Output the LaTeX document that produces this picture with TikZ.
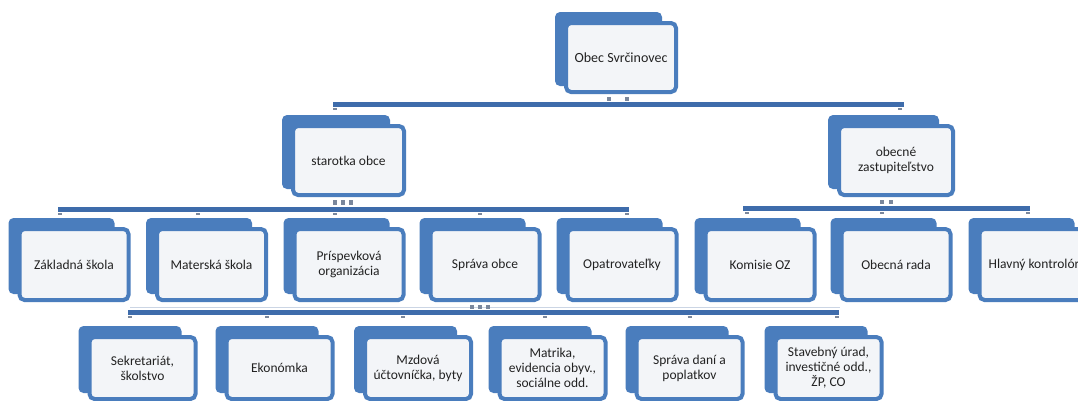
\documentclass[tikz,border=0pt]{standalone}
\usepackage{fontspec}
\setmainfont{Carlito}
\usetikzlibrary{backgrounds}
\definecolor{boxblue}{HTML}{4A7DBD}
\definecolor{barblue}{HTML}{3E6CAB}
\definecolor{boxfill}{HTML}{F3F5F8}
\definecolor{txtcol}{HTML}{222222}
\definecolor{stubgray}{HTML}{7A879C}
\definecolor{faintline}{HTML}{CBD5E4}
\newcommand\stubat[3]{\draw[stub] ([xshift=#2pt]#1.north |- #3) ++(-2pt,-4.5pt) -- ++(4pt,0pt);}
\newcommand\connat[3]{\draw[conn] ([xshift=#2pt]#1.south) -- ([xshift=#2pt]#1.south |- #3);}
\begin{document}
\begin{tikzpicture}[x=1pt,y=-1pt,
  fbox/.style={draw=boxblue,line width=4pt,fill=boxfill,rounded corners=5pt,
     inner sep=1pt,align=center,text=txtcol,font=\fontsize{13.5}{15}\selectfont},
  lone/.style={fbox,minimum width=110pt,minimum height=69pt,font=\fontsize{14}{15}\selectfont},
  ltwo/.style={fbox,minimum width=111pt,minimum height=69pt},
  lthree/.style={fbox,minimum width=109pt,minimum height=71pt},
  lfour/.style={fbox,minimum width=106pt,minimum height=62pt},
  backbox/.style={fill=boxblue,rounded corners=5pt},
  bus/.style={draw=barblue,line width=5pt},
  conn/.style={draw=stubgray,line width=4pt,shorten <=3pt,shorten >=4pt},
  stub/.style={draw=stubgray,line width=2pt},
]
\useasboundingbox (0,0) rectangle (1078,400);

% level 1
\node[lone] (top) at (621,57.5) {Obec Svrčinovec};
% level 2
\node[ltwo] (st) at (348.5,160.5) {starotka obce};
\node[ltwo,minimum width=114pt] (oz) at (896,160.5) {obecné\\zastupiteľstvo};
% level 3
\node[lthree] (za) at (74,264.5) {Základná škola};
\node[lthree] (ma) at (211.5,264.5) {Materská škola};
\node[lthree] (pr) at (349,264.5) {Príspevková\\organizácia};
\node[lthree] (sp) at (485,264.5) {Správa obce};
\node[lthree] (op) at (622,264.5) {Opatrovateľky};
\node[lthree] (ko) at (760,264.5) {Komisie OZ};
\node[lthree] (ob) at (896,264.5) {Obecná rada};
\node[lthree] (hk) at (1034,264.5) {Hlavný kontrolór};
% level 4
\node[lfour] (se) at (142.5,368) {Sekretariát,\\školstvo};
\node[lfour] (ek) at (279.5,368) {Ekonómka};
\node[lfour] (mz) at (418,368) {Mzdová\\účtovníčka, byty};
\node[lfour] (mt) at (552.5,368) {Matrika,\\evidencia obyv.,\\sociálne odd.};
\node[lfour] (sd) at (689.5,368) {Správa daní a\\poplatkov};
\node[lfour] (sb) at (828.5,368) {Stavebný úrad,\\investičné odd.,\\ŽP, CO};

% back boxes
\begin{scope}[on background layer]
  \fill[white] (0,0) rectangle (1078,400);
  \foreach \n in {top,st,oz,za,ma,pr,sp,op,ko,ob,hk,se,ek,mz,mt,sd,sb}
    \path[backbox] ([shift={(-9pt,9pt)}]\n.north west) rectangle ([shift={(-16pt,8pt)}]\n.south east);
\end{scope}

% bus heights
\coordinate (y1) at (0,104.5);
\coordinate (y2) at (0,209);
\coordinate (y3) at (0,208);
\coordinate (y4) at (0,312.5);

% buses
\draw[bus] ([xshift=-15.5pt]st.north |- y1) -- ([xshift=8pt]oz.north |- y1);
\draw[bus] ([xshift=-16pt]za.north |- y2) -- ([xshift=7pt]op.north |- y2);
\draw[bus] ([xshift=-17pt]ko.north |- y3) -- ([xshift=-4pt]hk.north |- y3);
\draw[draw=faintline,line width=1pt] ([xshift=-12.5pt]se.north |- y4) ++(0pt,5pt) -- ++(710pt,0pt);
\draw[bus] ([xshift=-14.5pt]se.north |- y4) -- ([xshift=10pt]sb.north |- y4);

% parent connectors
\foreach \d in {-12,6} {\connat{top}{\d}{y1}}
\foreach \d in {-13.5,-5.5,2.5} {\connat{st}{\d}{y2}}
\foreach \d in {-14,-5} {\connat{oz}{\d}{y3}}
\foreach \d in {-13,-5,3} {\connat{sp}{\d}{y4}}

% child stubs
\stubat{st}{-13.5}{y1}
\stubat{oz}{4}{y1}
\stubat{za}{-14}{y2}
\stubat{ma}{-13.5}{y2}
\stubat{pr}{-14}{y2}
\stubat{sp}{-5}{y2}
\stubat{op}{5}{y2}
\stubat{ko}{-13}{y3}
\stubat{ob}{-14}{y3}
\stubat{hk}{-6}{y3}
\stubat{se}{-12.5}{y4}
\stubat{ek}{-12.5}{y4}
\stubat{mz}{-15}{y4}
\stubat{mt}{-7.5}{y4}
\stubat{sd}{0}{y4}
\stubat{sb}{8.5}{y4}
\end{tikzpicture}
\end{document}
